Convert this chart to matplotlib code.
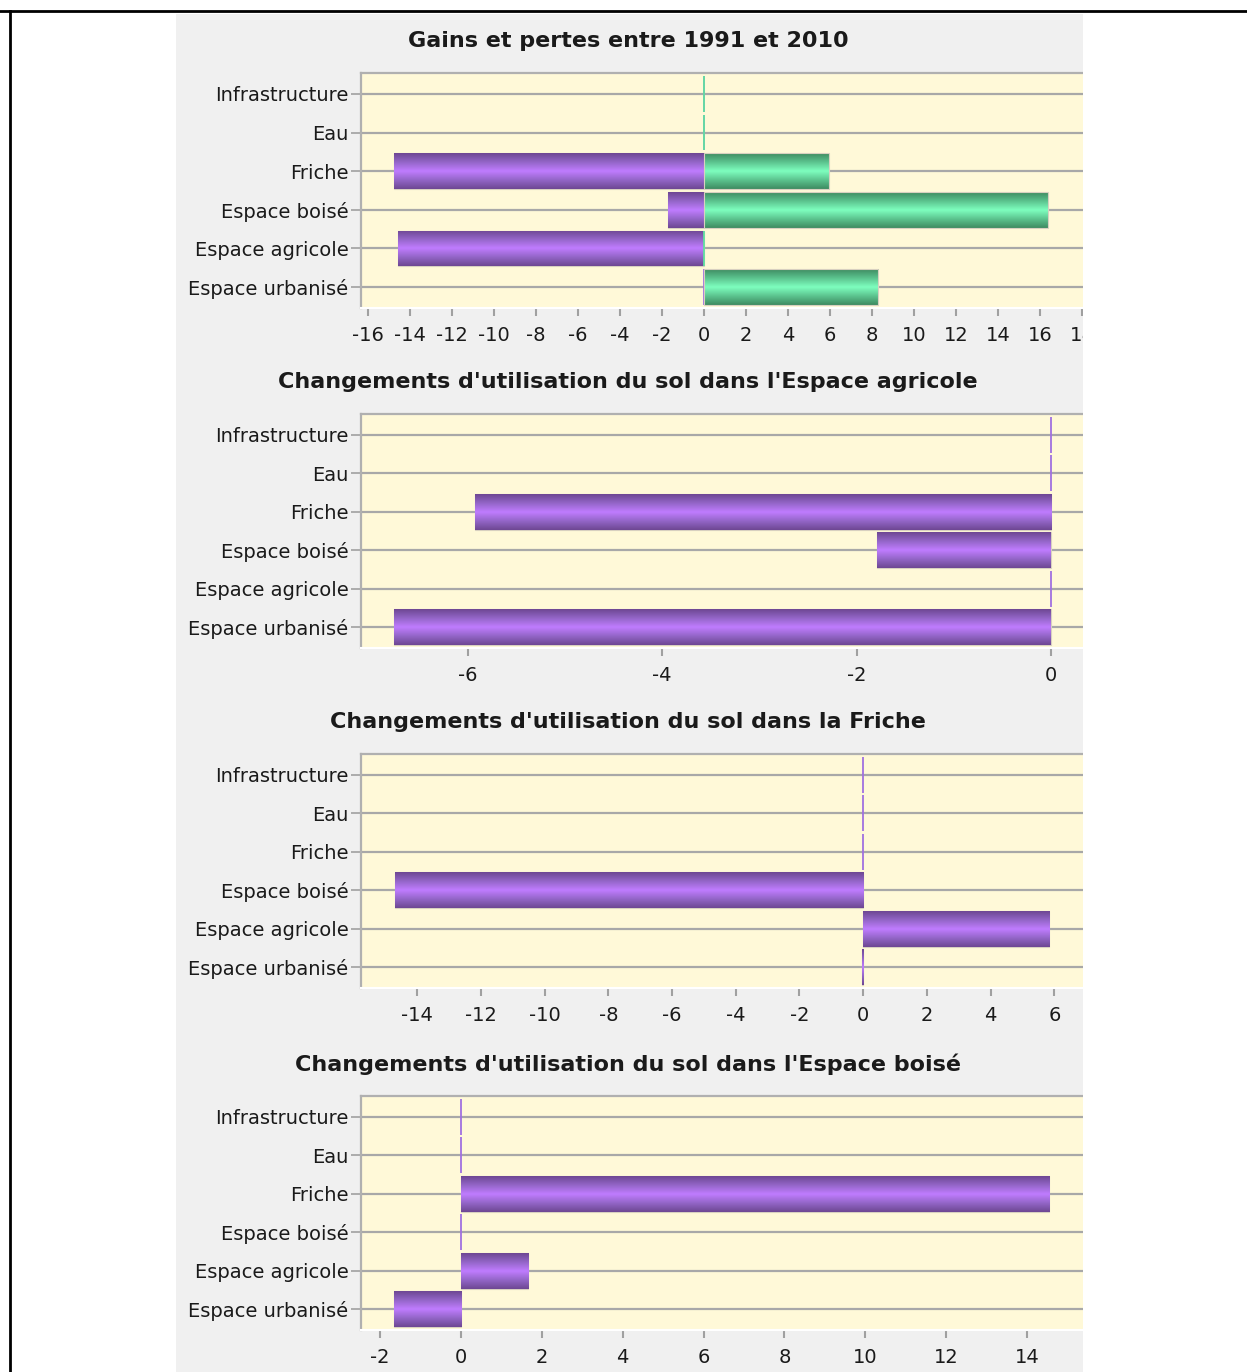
import numpy as np
import matplotlib
matplotlib.use("Agg")
import matplotlib.pyplot as plt
from matplotlib.patches import Rectangle
from matplotlib.lines import Line2D
from matplotlib.colors import LinearSegmentedColormap

plt.rcParams['font.family'] = ['DejaVu Sans']

categories = ["Infrastructure", "Eau", "Friche", "Espace boisé", "Espace agricole", "Espace urbanisé"]

# Panel 1: gains and losses 1991-2010
pertes_1991_2010 = [0.0, 0.0, -14.76, -1.7, -14.55, 0.0]
gains_1991_2010 = [0.0, 0.0, 5.95, 16.38, 0.0, 8.3]

# Panels 2-4: land use change in each category
agricole_changes = [0.0, 0.0, -5.93, -1.79, 0.0, -6.76]
friche_changes = [0.0, 0.0, 0.0, -14.69, 5.84, -0.05]
boise_changes = [0.0, 0.0, 14.54, 0.0, 1.66, -1.66]

titles = ["Gains et pertes entre 1991 et 2010",
          "Changements d'utilisation du sol dans l'Espace agricole",
          "Changements d'utilisation du sol dans la Friche",
          "Changements d'utilisation du sol dans l'Espace boisé"]

W, H = 1247, 1372
fig = plt.figure(figsize=(W / 100, H / 100), dpi=100)
fig.patch.set_facecolor("white")

# gray panel
fig.patches.append(Rectangle((176 / W, 0), (1083 - 176) / W, (H - 14) / H,
                             transform=fig.transFigure, facecolor="#f0f0f0",
                             edgecolor="none", zorder=-10))

purple_cmap = LinearSegmentedColormap.from_list(
    "p", ["#6e4894", "#9466c8", "#c07cff", "#9466c8", "#6e4894"])
green_cmap = LinearSegmentedColormap.from_list(
    "g", ["#3f8c62", "#5cc48f", "#7effbf", "#5cc48f", "#3f8c62"])
grad = np.linspace(0, 1, 64).reshape(-1, 1)

def gradient_bars(ax, bars, cmap, edge):
    for p in bars.patches:
        x0, y0 = p.get_x(), p.get_y()
        w, h = p.get_width(), p.get_height()
        if abs(w) < 1e-9:
            p.set_facecolor("none")
            p.set_edgecolor(edge)
            p.set_linewidth(1.3)
            continue
        p.set_facecolor("none")
        p.set_edgecolor("#d8d0c0")
        p.set_linewidth(0.8)
        im = ax.imshow(grad, cmap=cmap, aspect="auto",
                       extent=[x0, x0 + w, y0 + h, y0], zorder=2,
                       interpolation="bilinear")
        im.set_clip_path(p)

panels = [
    (73, 308, (-16.33, 18.05), np.arange(-16, 19, 2)),
    (414, 648, (-7.1, 0.33), np.arange(-6, 1, 2)),
    (754, 988, (-15.76, 6.9), np.arange(-14, 7, 2)),
    (1096, 1330, (-2.47, 15.38), np.arange(-2, 15, 2)),
]
series = [None, agricole_changes, friche_changes, boise_changes]

ypos = np.arange(len(categories))
for i, (top, bot, xlim, ticks) in enumerate(panels):
    ax = fig.add_axes([361 / W, 1 - bot / H, (1083 - 361) / W, (bot - top) / H])
    ax.set_facecolor("#fff9d8")
    if i == 0:
        b1 = ax.barh(ypos, pertes_1991_2010, height=0.93, zorder=2)
        gradient_bars(ax, b1, purple_cmap, "#a070e0")
        b2 = ax.barh(ypos, gains_1991_2010, height=0.93, zorder=3)
        gradient_bars(ax, b2, green_cmap, "#60e0a0")
    else:
        b = ax.barh(ypos, series[i], height=0.93, zorder=2)
        gradient_bars(ax, b, purple_cmap, "#a070e0")
    ax.set_xlim(*xlim)
    ax.set_ylim(len(categories) - 0.46, -0.54)
    ax.set_yticks(ypos)
    ax.set_yticklabels(categories)
    ax.set_xticks(ticks)
    ax.set_xticklabels([str(t) for t in ticks])
    ax.grid(axis="y", color="#a8a8a8", linewidth=1.6, zorder=1)
    ax.set_axisbelow(True)
    ax.spines["right"].set_visible(False)
    ax.spines["top"].set_color("#b0b0b0")
    ax.spines["top"].set_linewidth(1.6)
    ax.spines["left"].set_color("#b0b0b0")
    ax.spines["left"].set_linewidth(1.6)
    ax.spines["bottom"].set_color("#ffffff")
    ax.spines["bottom"].set_linewidth(1.5)
    ax.tick_params(axis="y", length=7, width=1.2, color="#a0a0a0", pad=2,
                   labelsize=14, labelcolor="#1a1a1a")
    ax.tick_params(axis="x", length=6, width=1.5, color="#a0a0a0", pad=7,
                   labelsize=14, labelcolor="#1a1a1a")
    fig.text(628 / W, 1 - (top - 32) / H, titles[i], ha="center", va="center",
             fontsize=16, fontweight="bold", color="#1a1a1a")

# white area right of the panel (clips the chart like in the original)
fig.patches.append(Rectangle((1083 / W, 0), (W - 1083) / W, (H - 14) / H,
                             transform=fig.transFigure, facecolor="white",
                             edgecolor="none", zorder=10))
# black frame lines
fig.lines.append(Line2D([0, 1], [1 - 11 / H, 1 - 11 / H], transform=fig.transFigure,
                        color="black", linewidth=2, zorder=11))
fig.lines.append(Line2D([10 / W, 10 / W], [0, 1 - 11 / H], transform=fig.transFigure,
                        color="black", linewidth=2, zorder=11))

fig.savefig("out.png", dpi=100)
